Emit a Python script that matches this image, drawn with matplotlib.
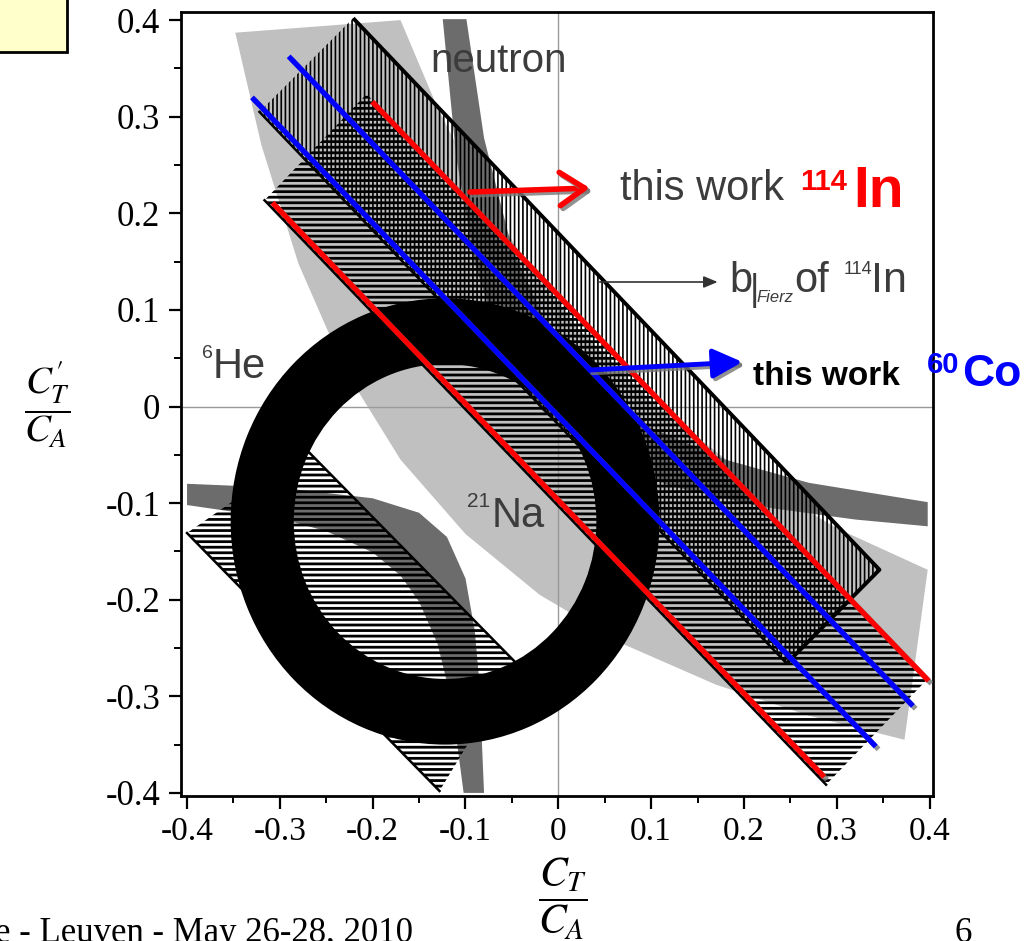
import numpy as np
import matplotlib
matplotlib.use('Agg')
import matplotlib.pyplot as plt
import matplotlib.patheffects as pe
from matplotlib.patches import Polygon, Rectangle, Wedge
from matplotlib.ticker import FixedLocator, FixedFormatter

plt.rcParams['font.family'] = 'Liberation Serif'
plt.rcParams['axes.unicode_minus'] = False
plt.rcParams['mathtext.fontset'] = 'stix'

# ---- data (C_T/C_A , C'_T/C_A) ----
# 21Na band (light gray), outer and inner boundary
na_outer_x = [-0.348, -0.32, -0.28, -0.23, -0.17, -0.10, -0.02, 0.07, 0.17, 0.27, 0.373]
na_outer_y = [0.387, 0.271, 0.148, 0.038, -0.055, -0.132, -0.195, -0.246, -0.288, -0.320, -0.345]
na_inner_x = [0.398, 0.30, 0.20, 0.10, 0.02, -0.04, -0.09, -0.13, -0.170]
na_inner_y = [-0.169, -0.126, -0.069, 0.005, 0.082, 0.157, 0.234, 0.309, 0.400]

# neutron band (dark gray), upper right branch
n_up_a_x = [-0.1245, -0.11, -0.09, -0.06, -0.02, 0.04, 0.12, 0.22, 0.32, 0.398]
n_up_a_y = [0.401, 0.258, 0.148, 0.060, -0.002, -0.050, -0.082, -0.104, -0.117, -0.124]
n_up_b_x = [0.398, 0.27, 0.18, 0.10, 0.04, -0.01, -0.05, -0.08, -0.099]
n_up_b_y = [-0.099, -0.079, -0.055, -0.022, 0.020, 0.080, 0.164, 0.278, 0.401]
# neutron band, lower left branch
n_lo_a_x = [-0.400, -0.30, -0.20, -0.15, -0.12, -0.10, -0.09, -0.085, -0.080]
n_lo_a_y = [-0.080, -0.084, -0.095, -0.110, -0.135, -0.178, -0.232, -0.286, -0.400]
n_lo_b_x = [-0.102, -0.115, -0.13, -0.15, -0.17, -0.20, -0.25, -0.30, -0.400]
n_lo_b_y = [-0.400, -0.305, -0.246, -0.202, -0.175, -0.151, -0.129, -0.116, -0.102]

# 6He ring
he_center = (-0.122, -0.119)
he_r_out = 0.231
he_r_in = 0.163

# hatched regions (corners)
fierz_x = [-0.322, -0.221, 0.346, 0.246]
fierz_y = [0.305, 0.402, -0.169, -0.266]
upper_x = [-0.3165, -0.2065, 0.3985, 0.2885]
upper_y = [0.2135, 0.3235, -0.2815, -0.3915]
lower_x = [-0.400, -0.271, -0.045, -0.128]
lower_y = [-0.131, -0.045, -0.266, -0.398]

# this work: 114In (red) and 60Co (blue) limits
red_x = [[-0.2005, 0.399], [-0.308, 0.2865]]
red_y = [[0.3155, -0.284], [0.211, -0.3835]]
blue_x = [[-0.2905, 0.382], [-0.330, 0.342]]
blue_y = [[0.3625, -0.310], [0.320, -0.352]]

ticks = [-0.4, -0.3, -0.2, -0.1, 0, 0.1, 0.2, 0.3, 0.4]
tick_labels = ['-0.4', '-0.3', '-0.2', '-0.1', '0', '0.1', '0.2', '0.3', '0.4']
minor_ticks = [-0.35, -0.25, -0.15, -0.05, 0.05, 0.15, 0.25, 0.35]

W, H = 1034, 941
fig = plt.figure(figsize=(W / 100, H / 100), dpi=100)
ax = fig.add_axes([181 / W, (H - 796) / H, (933 - 181) / W, (796 - 12) / H])
ax.set_xlim(-0.4065, 0.4037)
ax.set_ylim(-0.4032, 0.4084)


def fpos(px, py):
    return px / W, 1 - py / H


# 21Na
ax.add_patch(Polygon(np.column_stack([na_outer_x + na_inner_x, na_outer_y + na_inner_y]),
                     closed=True, facecolor='#c0c0c0', edgecolor='none', zorder=1))
# neutron
for xa, ya, xb, yb in [(n_up_a_x, n_up_a_y, n_up_b_x, n_up_b_y),
                       (n_lo_a_x, n_lo_a_y, n_lo_b_x, n_lo_b_y)]:
    ax.add_patch(Polygon(np.column_stack([xa + xb, ya + yb]), closed=True,
                         facecolor='#6c6c6c', edgecolor='none', zorder=2))

ax.axhline(0, color='#9a9a9a', lw=1, zorder=2.5)
ax.axvline(0, color='#9a9a9a', lw=1, zorder=2.5)


def hatched(xs, ys, pattern, hlw, z):
    plt.rcParams['hatch.linewidth'] = hlw
    p = Polygon(np.column_stack([xs, ys]), closed=True, facecolor='none',
                edgecolor='black', linewidth=0, hatch=pattern, zorder=z)
    if hasattr(p, 'set_hatch_linewidth'):
        p.set_hatch_linewidth(hlw)
    ax.add_patch(p)


hatched(lower_x, lower_y, '---', 2.0, 3)
hatched(upper_x, upper_y, '---', 2.0, 3)
hatched(fierz_x, fierz_y, '||||', 1.2, 3.1)

# 6He ring
ax.add_patch(Wedge(he_center, he_r_out, 0, 360, width=he_r_out - he_r_in,
                   facecolor='black', edgecolor='none', zorder=3.5))

# outlines of hatched regions
ax.plot([fierz_x[1], fierz_x[2], fierz_x[3]], [fierz_y[1], fierz_y[2], fierz_y[3]],
        color='black', lw=2.8, zorder=4, solid_capstyle='butt')
ax.plot([fierz_x[0], fierz_x[3]], [fierz_y[0], fierz_y[3]], color='black', lw=1.8, zorder=4)
ax.plot([upper_x[0], upper_x[3]], [upper_y[0], upper_y[3]], color='black', lw=1.8, zorder=4)
ax.plot([lower_x[0], lower_x[3]], [lower_y[0], lower_y[3]], color='black', lw=1.8, zorder=4)
ax.plot([lower_x[1], lower_x[2]], [lower_y[1], lower_y[2]], color='black', lw=1.8, zorder=4)

shadow = [pe.SimpleLineShadow(offset=(2, -2), shadow_color='#777777', alpha=0.8), pe.Normal()]
for xs, ys in zip(red_x, red_y):
    ax.plot(xs, ys, color='#ff0000', lw=3.8, zorder=5, solid_capstyle='butt', path_effects=shadow)
for xs, ys in zip(blue_x, blue_y):
    ax.plot(xs, ys, color='#0000ff', lw=3.8, zorder=5, solid_capstyle='butt', path_effects=shadow)

# arrows
ax.annotate('', xy=(0.0339, 0.2262), xytext=(-0.0953, 0.2220),
            arrowprops=dict(arrowstyle='->,head_length=0.6,head_width=0.4', color='#ff0000',
                            lw=4, mutation_scale=30, shrinkA=0, shrinkB=0,
                            path_effects=shadow), zorder=6, annotation_clip=False)
ax.annotate('', xy=(0.1984, 0.0461), xytext=(0.0339, 0.0378),
            arrowprops=dict(arrowstyle='-|>,head_length=0.6,head_width=0.3', color='#0000ff',
                            lw=3.5, mutation_scale=30, shrinkA=0, shrinkB=0,
                            path_effects=shadow), zorder=6, annotation_clip=False)
ax.annotate('', xy=(0.1717, 0.1289), xytext=(0.0447, 0.1289),
            arrowprops=dict(arrowstyle='-|>,head_length=0.6,head_width=0.25', color='#333333',
                            lw=1.2, mutation_scale=14, shrinkA=0, shrinkB=0),
            zorder=6, annotation_clip=False)

# axes styling
for s in ax.spines.values():
    s.set_linewidth(2)
ax.xaxis.set_major_locator(FixedLocator(ticks))
ax.yaxis.set_major_locator(FixedLocator(ticks))
ax.xaxis.set_major_formatter(FixedFormatter(tick_labels))
ax.yaxis.set_major_formatter(FixedFormatter(tick_labels))
ax.xaxis.set_minor_locator(FixedLocator(minor_ticks))
ax.yaxis.set_minor_locator(FixedLocator(minor_ticks))
ax.tick_params(which='major', direction='out', length=9, width=1.6, pad=6)
ax.tick_params(axis='x', which='major', labelsize=24)
ax.tick_params(axis='y', which='major', labelsize=25)
ax.tick_params(which='minor', direction='out', length=5, width=1.4)

# axis labels
fig.text(*fpos(563, 899), r'$\dfrac{C_T}{C_A}$', ha='center', va='center', fontsize=30)
fig.text(*fpos(47, 405), r"$\dfrac{C_{T}^{\prime}}{C_A}$", ha='center', va='center', fontsize=28)

# annotations
gray = '#3c3c3c'
sans = 'Liberation Sans'
fig.text(*fpos(430, 72), 'neutron', fontsize=29, color=gray, family=sans)
fig.text(*fpos(620, 200), 'this work', fontsize=30, color=gray, family=sans)
fig.text(*fpos(800, 190), '114', fontsize=21, color='#ff0000', family=sans, weight='bold')
fig.text(*fpos(853, 207), 'In', fontsize=41, color='#ff0000', family=sans, weight='bold')
fig.text(*fpos(729, 292), 'b', fontsize=30, color=gray, family=sans)
fig.text(*fpos(750, 300), '|', fontsize=26, color=gray, family=sans)
fig.text(*fpos(756, 302), 'Fierz', fontsize=12, color=gray, family=sans, style='italic')
fig.text(*fpos(794, 292), 'of', fontsize=30, color=gray, family=sans)
fig.text(*fpos(844, 274), '114', fontsize=13, color=gray, family=sans)
fig.text(*fpos(871, 292), 'In', fontsize=31, color=gray, family=sans)
fig.text(*fpos(753, 385), 'this work', fontsize=24, color='black', family=sans, weight='bold')
fig.text(*fpos(927, 373), '60', fontsize=21, color='#0000ff', family=sans, weight='bold')
fig.text(*fpos(962, 386), 'Co', fontsize=32, color='#0000ff', family=sans, weight='bold')
fig.text(*fpos(202, 358), '6', fontsize=14, color=gray, family=sans)
fig.text(*fpos(213, 378), 'He', fontsize=30, color=gray, family=sans)
fig.text(*fpos(467, 507), '21', fontsize=15, color=gray, family=sans)
fig.text(*fpos(492, 527), 'Na', fontsize=30, color=gray, family=sans)

# slide remnants
fig.patches.append(Rectangle((-0.01, 1 - 52 / H), 67 / W + 0.01, 52 / H + 0.01,
                             transform=fig.transFigure, facecolor='#ffffcc',
                             edgecolor='black', lw=2))
fig.text(*fpos(-5, 942), 'e - Leuven - May 26-28, 2010', fontsize=25)
fig.text(*fpos(954, 942), '6', fontsize=25)

fig.savefig('out.png', dpi=100)
